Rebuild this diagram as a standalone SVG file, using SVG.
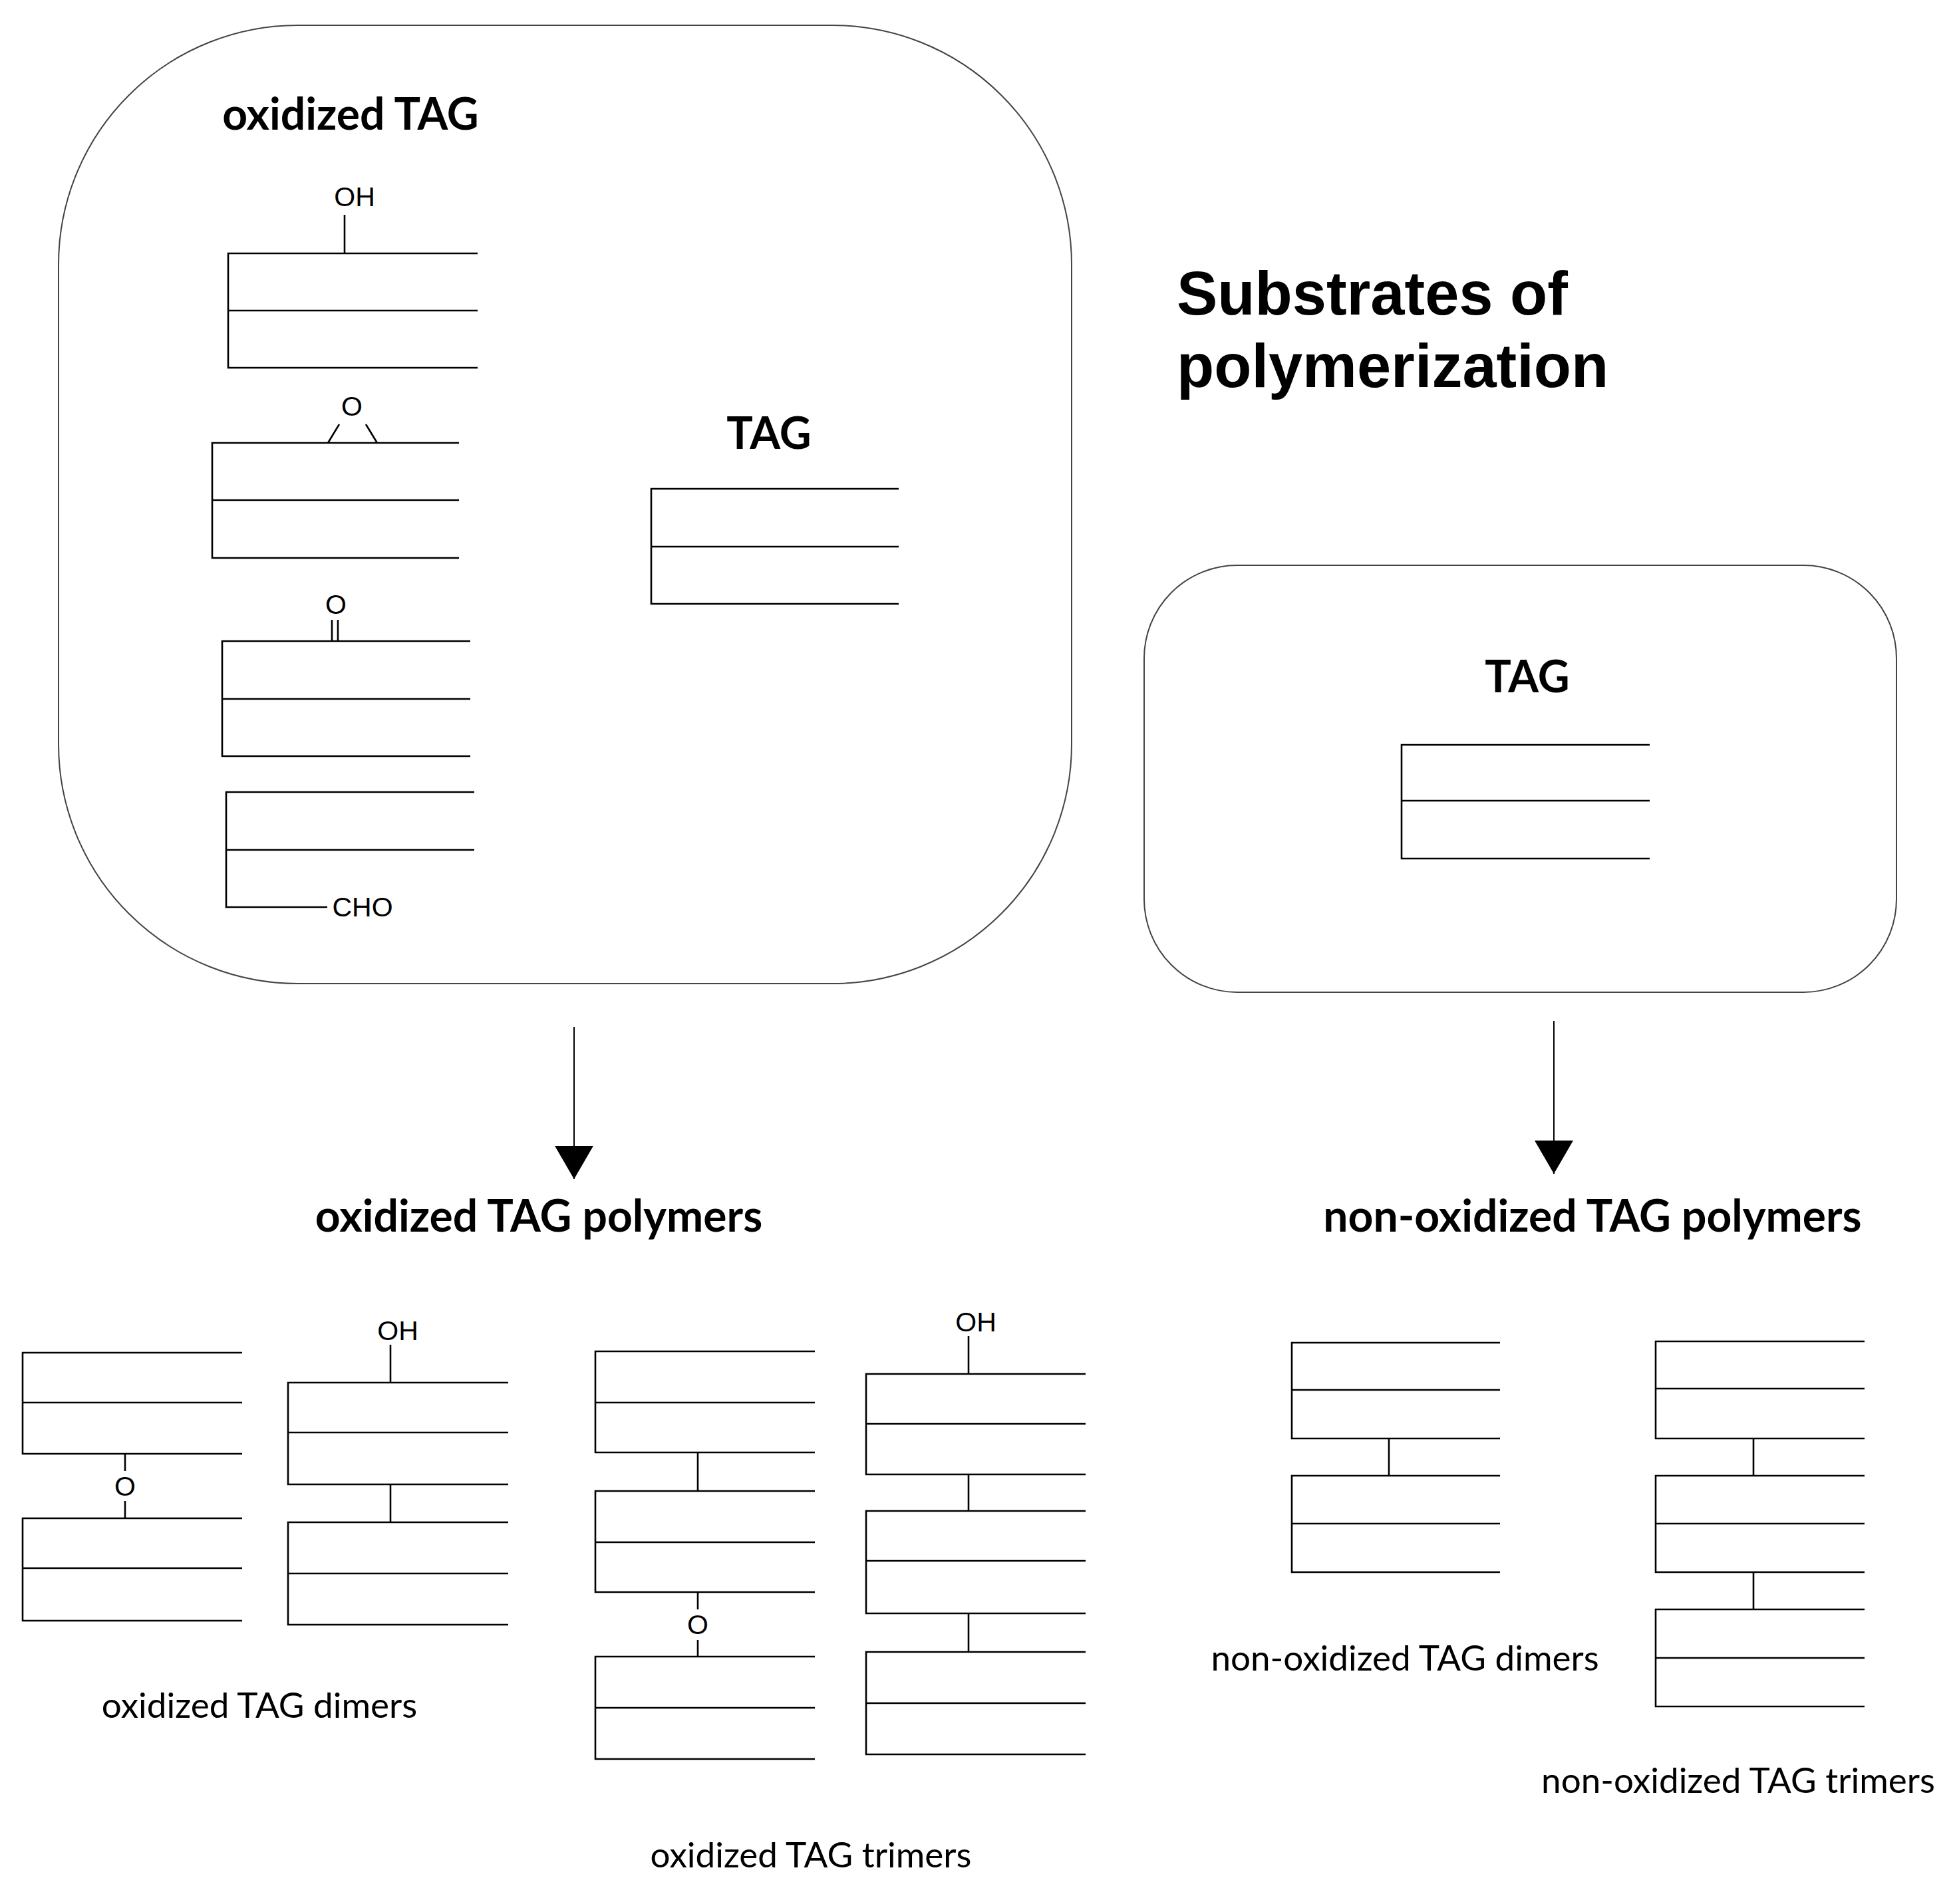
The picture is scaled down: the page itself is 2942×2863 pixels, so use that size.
<svg xmlns="http://www.w3.org/2000/svg" width="2942" height="2863" viewBox="0 0 2942 2863">
<style>
.s{fill:none;stroke:#000;stroke-width:2.6}
.box{fill:none;stroke:#444;stroke-width:2}
.h{font-family:Lato,"Open Sans",sans-serif;font-weight:bold;font-size:66px;text-anchor:middle}
.t{font-family:"Liberation Sans",Arial,sans-serif;font-weight:bold;font-size:92px}
.c{font-family:"Liberation Sans",Arial,sans-serif;font-size:41px;text-anchor:middle}
.l{font-family:Lato,"Open Sans",sans-serif;font-size:53px;text-anchor:middle}
</style>
<defs><marker id="ah" markerWidth="50" markerHeight="58" refX="50" refY="29" orient="auto" markerUnits="userSpaceOnUse" viewBox="0 0 50 58"><path d="M0,0L50,29L0,58z"/></marker></defs>
<rect width="2942" height="2863" fill="#fff"/>
<g id="title"><text class="t" x="1769" y="473">Substrates of</text><text class="t" x="1769" y="582">polymerization</text></g>
<g id="oxidized-box">
<rect class="box" x="88" y="38" width="1523" height="1441" rx="360"/>
<text class="h" x="527" y="195">oxidized TAG</text>
<path class="s" d="M718,381H343V553H718M343,467H718M518,381V323"/><text class="c" x="533" y="310">OH</text>
<path class="s" d="M690,666H319V839H690M319,752H690M493,666L510,638M550,638L567,666"/><text class="c" x="529" y="625">O</text>
<path class="s" d="M707,964H334V1137H707M334,1051H707M499,964V932M508,964V932"/><text class="c" x="505" y="923">O</text>
<path class="s" d="M713,1191H340V1364H492M340,1278H713"/><text class="c" x="545" y="1378">CHO</text>
<text class="h" x="1156" y="675">TAG</text>
<path class="s" d="M1351,735H979V908H1351M979,822H1351"/>
</g>
<g id="tag-box">
<rect class="box" x="1720" y="850" width="1131" height="642" rx="140"/>
<text class="h" x="2296" y="1041">TAG</text>
<path class="s" d="M2480,1120H2107V1291H2480M2107,1204H2480"/>
</g>
<g id="connectors">
<line x1="863" y1="1544" x2="863" y2="1773" stroke="#000" stroke-width="2" marker-end="url(#ah)"/>
<line x1="2336" y1="1535" x2="2336" y2="1765" stroke="#000" stroke-width="2" marker-end="url(#ah)"/>
</g>
<g id="ox-polymers">
<text class="h" x="810" y="1852">oxidized TAG polymers</text>
<path class="s" d="M364,2034H34V2186H364M34,2109H364M364,2283H34V2437H364M34,2358H364M188,2186V2212M188,2257V2283"/><text class="c" x="188" y="2249">O</text>
<path class="s" d="M764,2079H433V2232H764M433,2154H764M764,2289H433V2443H764M433,2366H764M587,2079V2022M587,2232V2289"/><text class="c" x="598" y="2015">OH</text>
<text class="l" x="390" y="2583">oxidized TAG dimers</text>
<path class="s" d="M1225,2032H895V2184H1225M895,2109H1225M1225,2242H895V2394H1225M895,2319H1225M1225,2491H895V2645H1225M895,2568H1225M1049,2184V2242M1049,2394V2420M1049,2466V2491"/><text class="c" x="1049" y="2457">O</text>
<path class="s" d="M1632,2066H1302V2217H1632M1302,2141H1632M1632,2272H1302V2426H1632M1302,2347H1632M1632,2484H1302V2638H1632M1302,2561H1632M1456,2066V2009M1456,2217V2272M1456,2426V2484"/><text class="c" x="1467" y="2002">OH</text>
<text class="l" x="1219" y="2808">oxidized TAG trimers</text>
</g>
<g id="nonox-polymers">
<text class="h" x="2394" y="1852">non-oxidized TAG polymers</text>
<path class="s" d="M2255,2019H1942V2163H2255M1942,2090H2255M2255,2219H1942V2364H2255M1942,2291H2255M2088,2163V2219"/>
<text class="l" x="2112" y="2512">non-oxidized TAG dimers</text>
<path class="s" d="M2803,2017H2489V2163H2803M2489,2088H2803M2803,2219H2489V2364H2803M2489,2291H2803M2803,2420H2489V2566H2803M2489,2493H2803M2636,2163V2219M2636,2364V2420"/>
<text class="l" x="2613" y="2696">non-oxidized TAG trimers</text>
</g>
</svg>
